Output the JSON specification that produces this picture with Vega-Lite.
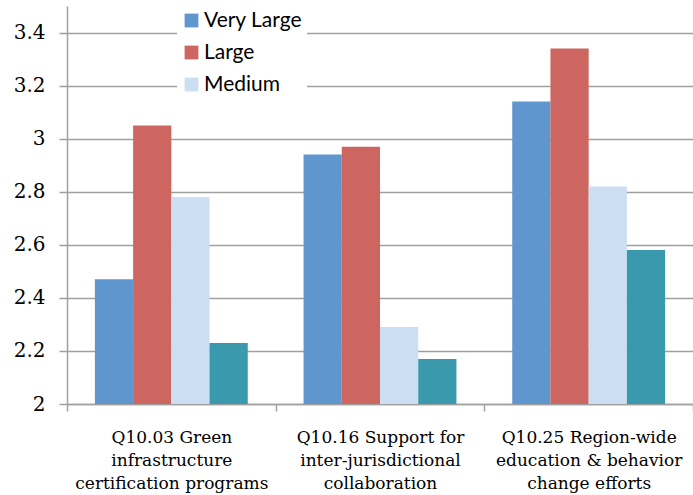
{
  "$schema": "https://vega.github.io/schema/vega-lite/v6.json",
  "width": 626,
  "height": 398,
  "autosize": "none",
  "padding": {"left": 67, "top": 6, "right": 0, "bottom": 91},
  "background": "white",
  "config": {"view": {"stroke": null}},
  "data": {
    "values": [
      {"q": "Q10.03 Green|infrastructure|certification programs", "size": "Very Large", "v": 2.47},
      {"q": "Q10.03 Green|infrastructure|certification programs", "size": "Large", "v": 3.05},
      {"q": "Q10.03 Green|infrastructure|certification programs", "size": "Medium", "v": 2.78},
      {"q": "Q10.03 Green|infrastructure|certification programs", "size": "Small", "v": 2.23},
      {"q": "Q10.16 Support for|inter-jurisdictional|collaboration", "size": "Very Large", "v": 2.94},
      {"q": "Q10.16 Support for|inter-jurisdictional|collaboration", "size": "Large", "v": 2.97},
      {"q": "Q10.16 Support for|inter-jurisdictional|collaboration", "size": "Medium", "v": 2.29},
      {"q": "Q10.16 Support for|inter-jurisdictional|collaboration", "size": "Small", "v": 2.17},
      {"q": "Q10.25 Region-wide|education & behavior|change efforts", "size": "Very Large", "v": 3.14},
      {"q": "Q10.25 Region-wide|education & behavior|change efforts", "size": "Large", "v": 3.34},
      {"q": "Q10.25 Region-wide|education & behavior|change efforts", "size": "Medium", "v": 2.82},
      {"q": "Q10.25 Region-wide|education & behavior|change efforts", "size": "Small", "v": 2.58}
    ]
  },
  "mark": {"type": "bar", "clip": true},
  "encoding": {
    "x": {
      "field": "q",
      "type": "nominal",
      "sort": null,
      "title": null,
      "scale": {"paddingInner": 0, "paddingOuter": 0},
      "axis": {
        "labelAngle": 0,
        "labelExpr": "split(datum.label, '|')",
        "labelFont": "DejaVu Serif",
        "labelFontSize": 17,
        "labelColor": "#000000",
        "labelLineHeight": 23,
        "labelPadding": 18,
        "labelLimit": 300,
        "ticks": true,
        "tickBand": "extent",
        "tickSize": 7,
        "tickColor": "#a0a0a0",
        "tickWidth": 1.5,
        "domainColor": "#a0a0a0",
        "domainWidth": 1.5,
        "grid": false
      }
    },
    "xOffset": {
      "field": "size",
      "type": "nominal",
      "sort": ["Very Large", "Large", "Medium", "Small"],
      "scale": {"paddingInner": 0, "paddingOuter": 0.73}
    },
    "y": {
      "field": "v",
      "type": "quantitative",
      "title": null,
      "scale": {"domain": [2, 3.5], "nice": false, "zero": false},
      "axis": {
        "values": [2, 2.2, 2.4, 2.6, 2.8, 3, 3.2, 3.4],
        "format": ".1~f",
        "labelFont": "DejaVu Serif",
        "labelFontSize": 20,
        "labelColor": "#000000",
        "labelPadding": 14,
        "tickSize": 8,
        "tickColor": "#a0a0a0",
        "tickWidth": 1.5,
        "domainColor": "#a0a0a0",
        "domainWidth": 1.5,
        "gridColor": "#a0a0a0",
        "gridWidth": 1.5
      }
    },
    "color": {
      "field": "size",
      "type": "nominal",
      "scale": {
        "domain": ["Very Large", "Large", "Medium", "Small"],
        "range": ["#5F96CD", "#CD6560", "#CCDEF1", "#3A99AC"]
      },
      "legend": {
        "title": null,
        "values": ["Very Large", "Large", "Medium"],
        "orient": "none",
        "legendX": 110,
        "legendY": 0,
        "fillColor": "white",
        "padding": 4,
        "symbolType": "square",
        "symbolSize": 190,
        "symbolStrokeWidth": 0,
        "labelFont": "Lato",
        "labelFontSize": 21,
        "labelColor": "#000000",
        "labelOffset": 2,
        "rowPadding": 10
      }
    }
  }
}
